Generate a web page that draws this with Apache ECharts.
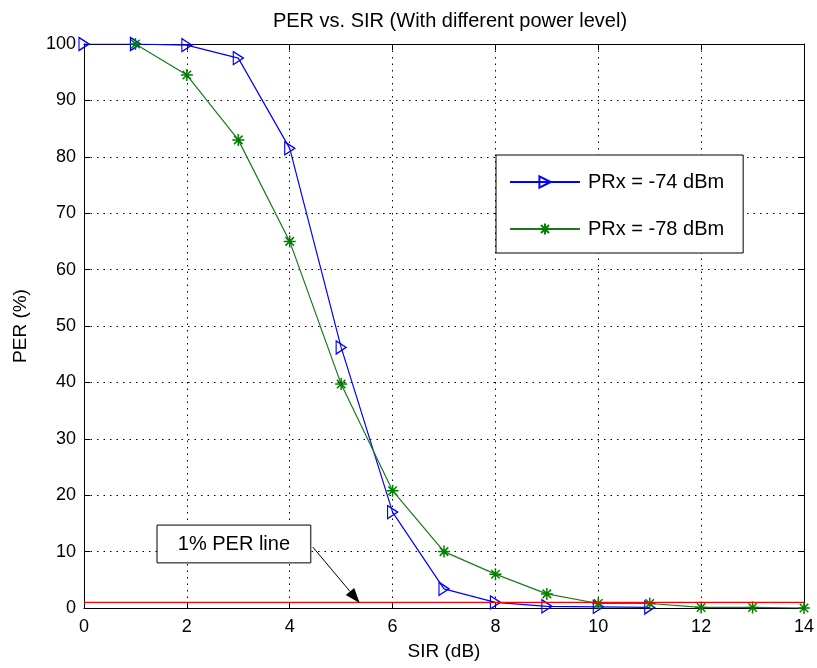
<!DOCTYPE html>
<html>
<head>
<meta charset="utf-8">
<script src="https://cdn.jsdelivr.net/npm/echarts@6/dist/echarts.min.js"></script>
<style>
html,body{margin:0;padding:0;background:#fff;}
#main{width:817px;height:668px;}
</style>
</head>
<body>
<div id="main"></div>
<script>
// ---- data ----
const titleText = 'PER vs. SIR (With different power level)';
const xName = 'SIR (dB)';
const yName = 'PER (%)';
const nameBlue = 'PRx = -74 dBm';
const nameGreen = 'PRx = -78 dBm';
const sirBlue = [0, 1, 2, 3, 4, 5, 6, 7, 8, 9, 10, 11];
const perBlue = [100, 100, 99.8, 97.5, 81.5, 46.2, 17, 3.4, 1.0, 0.3, 0.2, 0.1];
const sirGreen = [1, 2, 3, 4, 5, 6, 7, 8, 9, 10, 11, 12, 13, 14];
const perGreen = [100, 94.5, 83, 65, 39.7, 20.8, 10, 6, 2.5, 0.8, 0.8, 0.1, 0.1, 0];
const refLineX = [0, 14];
const refLineY = [1, 1];
const annotText = '1% PER line';
// annotation box corners and arrow (in data units)
const annotBox = {x0: 1.42, x1: 4.41, y0: 8.0, y1: 14.7};
const annotArrow = {from: [4.45, 10.8], to: [5.36, 0.9]};

const FONT = '"Liberation Sans", Arial, sans-serif';
const pairs = (xs, ys) => xs.map((x, i) => [x, ys[i]]);

const chart = echarts.init(document.getElementById('main'), null, {renderer: 'canvas'});

const baseAxisX = {
  type: 'value', min: 0, max: 14, interval: 2,
  axisLine: {show: true, onZero: false, lineStyle: {color: '#000', width: 1}},
  axisTick: {show: true, inside: true, length: 6, lineStyle: {color: '#000'}},
};
const baseAxisY = {
  type: 'value', min: 0, max: 100, interval: 10,
  axisLine: {show: true, onZero: false, lineStyle: {color: '#000', width: 1}},
  axisTick: {show: true, inside: true, length: 6, lineStyle: {color: '#000'}},
};

const option = {
  backgroundColor: '#fff',
  animation: false,
  title: {
    text: titleText,
    left: 445, top: 6, textAlign: 'center',
    textStyle: {fontFamily: FONT, fontSize: 20, fontWeight: 'normal', color: '#000'}
  },
  grid: {left: 84, right: 12, top: 44, bottom: 60, containLabel: false},
  legend: {
    data: [nameBlue, nameGreen],
    orient: 'vertical',
    left: 496, top: 155,
    backgroundColor: '#fff',
    borderColor: '#000', borderWidth: 1,
    padding: [17, 19, 14, 13],
    itemWidth: 70, itemHeight: 14, itemGap: 27,
    textStyle: {fontFamily: FONT, fontSize: 20, color: '#000', lineHeight: 20, padding: [0, 0, 0, 3]},
    z: 10
  },
  xAxis: [
    Object.assign({}, baseAxisX, {
      position: 'bottom',
      name: xName, nameLocation: 'middle', nameGap: 34,
      nameTextStyle: {fontFamily: FONT, fontSize: 19, color: '#000'},
      axisLabel: {show: true, margin: 10, fontFamily: FONT, fontSize: 18, color: '#000'},
      splitLine: {show: true, lineStyle: {color: '#000', type: [1.5, 5], width: 1}}
    }),
    Object.assign({}, baseAxisX, {
      position: 'top', axisLabel: {show: false}, splitLine: {show: false}
    })
  ],
  yAxis: [
    Object.assign({}, baseAxisY, {
      position: 'left',
      name: yName, nameLocation: 'middle', nameGap: 54,
      nameTextStyle: {fontFamily: FONT, fontSize: 19, color: '#000'},
      axisLabel: {show: true, margin: 8, fontFamily: FONT, fontSize: 18, color: '#000'},
      splitLine: {show: true, lineStyle: {color: '#000', type: [1.5, 5], width: 1}}
    }),
    Object.assign({}, baseAxisY, {
      position: 'right', axisLabel: {show: false}, splitLine: {show: false}
    })
  ],
  series: [
    {
      name: nameBlue, type: 'line',
      data: pairs(sirBlue, perBlue),
      color: '#0000ff',
      symbol: 'triangle', symbolSize: [13, 10], symbolRotate: -90,
      showAllSymbol: true,
      lineStyle: {color: '#0000ff', width: 1.2},
      itemStyle: {color: 'rgba(255,255,255,0)', borderColor: '#0000ff', borderWidth: 1.3},
      z: 3
    },
    {
      name: nameGreen, type: 'line',
      data: pairs(sirGreen, perGreen),
      color: '#008000',
      symbol: 'path://M12 0 L12 24 M0 12 L24 12 M3.5 3.5 L20.5 20.5 M3.5 20.5 L20.5 3.5',
      symbolSize: 12,
      showAllSymbol: true,
      lineStyle: {color: '#1a7a1a', width: 1.2},
      itemStyle: {color: '#008000', borderColor: '#008000', borderWidth: 1.5},
      z: 3
    },
    {
      name: '1% PER', type: 'line',
      data: pairs(refLineX, refLineY),
      symbol: 'none',
      lineStyle: {color: '#ff0000', width: 1.3},
      z: 4
    }
  ]
};

chart.setOption(option);

function drawAnnotation() {
  const p = (x, y) => chart.convertToPixel({gridIndex: 0}, [x, y]);
  const tl = p(annotBox.x0, annotBox.y1);
  const br = p(annotBox.x1, annotBox.y0);
  const a0 = p(annotArrow.from[0], annotArrow.from[1]);
  const a1 = p(annotArrow.to[0], annotArrow.to[1]);
  const ang = Math.atan2(a1[1] - a0[1], a1[0] - a0[0]);
  const L = 15, W = 5.5;
  const base = [a1[0] - L * Math.cos(ang), a1[1] - L * Math.sin(ang)];
  const left = [base[0] + W * Math.sin(ang), base[1] - W * Math.cos(ang)];
  const right = [base[0] - W * Math.sin(ang), base[1] + W * Math.cos(ang)];
  chart.setOption({
    graphic: [
      {type: 'rect', z: 100, shape: {x: tl[0], y: tl[1], width: br[0] - tl[0], height: br[1] - tl[1]},
        style: {fill: '#fff', stroke: '#000', lineWidth: 1}},
      {type: 'text', z: 101, x: (tl[0] + br[0]) / 2, y: (tl[1] + br[1]) / 2,
        style: {text: annotText, font: '20px ' + FONT, fill: '#000', align: 'center', verticalAlign: 'middle'}},
      {type: 'line', z: 100, shape: {x1: a0[0], y1: a0[1], x2: base[0], y2: base[1]},
        style: {stroke: '#000', lineWidth: 1}},
      {type: 'polygon', z: 100, shape: {points: [a1, left, right]}, style: {fill: '#000'}}
    ]
  });
}
drawAnnotation();
</script>
</body>
</html>
